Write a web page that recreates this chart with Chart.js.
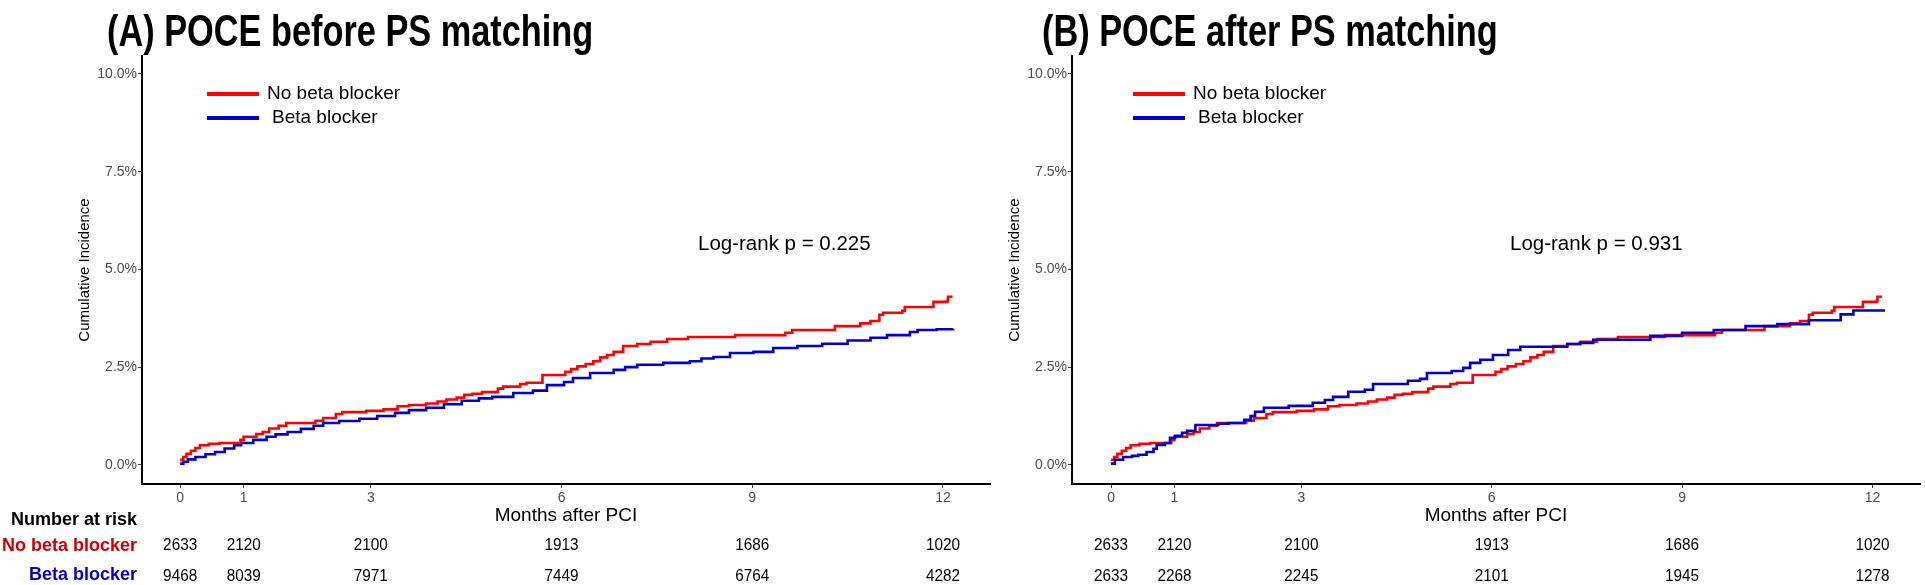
<!DOCTYPE html>
<html>
<head>
<meta charset="utf-8">
<script src="https://cdn.jsdelivr.net/npm/chart.js@4.4.1/dist/chart.umd.min.js"></script>
<style>
  html, body { margin: 0; padding: 0; background: #fff; }
  #wrap { position: relative; width: 1925px; height: 585px; overflow: hidden; }
  canvas { position: absolute; top: 0; }
  #chartA { left: 0; }
  #chartB { left: 1000px; }
</style>
</head>
<body>
<div id="wrap">
  <canvas id="chartA" width="1000" height="585"></canvas>
  <canvas id="chartB" width="925" height="585"></canvas>
</div>
<script>
const FONT = "'Liberation Sans', Arial, sans-serif";

const seriesLabels = ['No beta blocker', 'Beta blocker'];
const xTicks = [0, 1, 3, 6, 9, 12];
const yTicks = [0, 2.5, 5, 7.5, 10];
const riskMonths = [0, 1, 3, 6, 9, 12];

// No beta blocker (same group in both panels)
const noBBMonths = [0, 0.05, 0.1, 0.17, 0.24, 0.31, 0.45, 0.62, 0.95, 1.0, 1.2, 1.3, 1.4, 1.55, 1.67, 2.13, 2.25, 2.45, 2.55, 2.93, 3.2, 3.42, 3.6, 3.87, 4.05, 4.19, 4.35, 4.47, 4.6, 4.75, 5.0, 5.08, 5.35, 5.45, 5.7, 6.06, 6.15, 6.25, 6.38, 6.5, 6.61, 6.72, 6.82, 6.97, 7.19, 7.4, 7.66, 7.99, 8.73, 9.52, 9.63, 10.3, 10.7, 10.86, 11.0, 11.06, 11.36, 11.4, 11.85, 12.07, 12.08, 12.15];
const noBBIncidence = [0.13, 0.2, 0.28, 0.36, 0.43, 0.5, 0.54, 0.56, 0.64, 0.72, 0.79, 0.84, 0.93, 1.0, 1.07, 1.13, 1.2, 1.3, 1.35, 1.38, 1.42, 1.5, 1.53, 1.57, 1.62, 1.67, 1.72, 1.79, 1.82, 1.86, 1.95, 2.0, 2.07, 2.1, 2.3, 2.38, 2.45, 2.52, 2.58, 2.65, 2.75, 2.81, 2.89, 3.04, 3.09, 3.15, 3.22, 3.27, 3.32, 3.38, 3.45, 3.55, 3.62, 3.68, 3.84, 3.89, 3.94, 4.04, 4.17, 4.2, 4.3, 4.3];

// Beta blocker, before PS matching
const bbBeforeMonths = [0, 0.05, 0.12, 0.24, 0.4, 0.55, 0.7, 0.85, 0.96, 1.15, 1.36, 1.5, 1.69, 1.9, 2.1, 2.25, 2.5, 2.82, 3.1, 3.38, 3.6, 3.87, 4.15, 4.43, 4.7, 4.91, 5.24, 5.55, 5.77, 6.04, 6.18, 6.45, 6.82, 7.0, 7.19, 7.6, 8.02, 8.2, 8.39, 8.65, 9.02, 9.33, 9.71, 10.1, 10.5, 10.86, 11.12, 11.48, 11.6, 11.9, 12.16];
const bbBeforeIncidence = [0.03, 0.08, 0.14, 0.2, 0.27, 0.33, 0.42, 0.5, 0.56, 0.64, 0.72, 0.78, 0.84, 0.92, 1.0, 1.07, 1.12, 1.18, 1.25, 1.33, 1.4, 1.46, 1.55, 1.64, 1.7, 1.74, 1.84, 1.9, 2.04, 2.12, 2.22, 2.35, 2.43, 2.5, 2.56, 2.61, 2.65, 2.72, 2.76, 2.86, 2.89, 2.99, 3.04, 3.1, 3.18, 3.25, 3.32, 3.4, 3.45, 3.47, 3.48];

// Beta blocker, after PS matching
const bbAfterMonths = [0, 0.06, 0.19, 0.33, 0.43, 0.56, 0.67, 0.72, 0.85, 0.93, 1.01, 1.12, 1.2, 1.33, 1.69, 1.85, 2.1, 2.2, 2.27, 2.41, 2.8, 3.18, 3.37, 3.5, 3.74, 4.0, 4.13, 4.68, 4.87, 4.98, 5.37, 5.55, 5.66, 5.82, 6.02, 6.26, 6.45, 7.19, 7.39, 7.6, 8.5, 9.0, 9.5, 10.0, 10.5, 11.0, 11.5, 11.7, 12.2];
const bbAfterIncidence = [0.03, 0.13, 0.2, 0.23, 0.26, 0.33, 0.41, 0.51, 0.56, 0.69, 0.74, 0.82, 0.87, 1.02, 1.05, 1.07, 1.15, 1.25, 1.36, 1.46, 1.51, 1.59, 1.66, 1.74, 1.87, 1.92, 2.07, 2.15, 2.2, 2.35, 2.4, 2.48, 2.61, 2.69, 2.81, 2.94, 3.02, 3.09, 3.12, 3.2, 3.3, 3.38, 3.45, 3.55, 3.6, 3.7, 3.85, 3.95, 3.95];

const riskNoBB = [2633, 2120, 2100, 1913, 1686, 1020];
const riskBBBefore = [9468, 8039, 7971, 7449, 6764, 4282];
const riskBBAfter = [2633, 2268, 2245, 2101, 1945, 1278];

const RED = '#ff0000';
const BLUE = '#0000cc';

function toPoints(xs, ys) {
    return xs.map((x, i) => ({ x: x, y: ys[i] }));
}

function textAt(ctx, text, x, y, font, color, align, sx) {
    ctx.save();
    ctx.font = font;
    ctx.fillStyle = color;
    ctx.textAlign = align;
    ctx.textBaseline = 'middle';
    ctx.translate(x, y);
    ctx.scale(sx || 1, 1);
    ctx.fillText(text, 0, 0);
    ctx.restore();
}

// titles, legend, axis titles, log-rank note and risk table
const decorations = {
    id: 'decorations',
    afterDraw(chart) {
        const o = chart.options.plugins.decorations;
        const ctx = chart.ctx;
        const area = chart.chartArea;
        const xs = chart.scales.x;

        // panel title, condensed bold
        ctx.save();
        ctx.font = 'bold 44px ' + FONT;
        ctx.fillStyle = '#000';
        ctx.textBaseline = 'alphabetic';
        ctx.translate(o.titleX, 46);
        ctx.scale(0.78, 1);
        ctx.fillText(o.title, 0, 0);
        ctx.restore();

        // y axis title
        ctx.save();
        ctx.translate(area.left - 57, (area.top + area.bottom) / 2);
        ctx.rotate(-Math.PI / 2);
        ctx.font = '15px ' + FONT;
        ctx.fillStyle = '#000';
        ctx.textAlign = 'center';
        ctx.textBaseline = 'middle';
        ctx.fillText('Cumulative Incidence', 0, 0);
        ctx.restore();

        textAt(ctx, 'Months after PCI', (area.left + area.right) / 2, 516, '19px ' + FONT, '#000', 'center');

        // legend
        const legendRows = [[seriesLabels[0], RED, 94, 0], [seriesLabels[1], BLUE, 118, 5]];
        legendRows.forEach(([label, color, y, shift]) => {
            ctx.save();
            ctx.strokeStyle = color;
            ctx.lineWidth = 4;
            ctx.beginPath();
            ctx.moveTo(area.left + o.legendX, y);
            ctx.lineTo(area.left + o.legendX + 52, y);
            ctx.stroke();
            ctx.restore();
            textAt(ctx, label, area.left + o.legendX + 60 + shift, y, '19px ' + FONT, '#000', 'left');
        });

        textAt(ctx, o.logRank, area.left + o.logRankX, 244, '20.5px ' + FONT, '#000', 'left');

        // number at risk
        if (o.riskLabels) {
            textAt(ctx, 'Number at risk', 137, 520, 'bold 18px ' + FONT, '#000', 'right');
            textAt(ctx, seriesLabels[0], 137, 546, 'bold 18px ' + FONT, '#cc0000', 'right');
            textAt(ctx, seriesLabels[1], 137, 575, 'bold 18px ' + FONT, '#0000cc', 'right');
        }
        riskMonths.forEach((m, i) => {
            const px = xs.getPixelForValue(m);
            textAt(ctx, String(o.riskTop[i]), px, 545, '17px ' + FONT, '#000', 'center', 0.9);
            textAt(ctx, String(o.riskBottom[i]), px, 576, '17px ' + FONT, '#000', 'center', 0.9);
        });
    }
};

function makeChart(canvasId, cfg) {
    const canvas = document.getElementById(canvasId);
    return new Chart(canvas, {
        type: 'line',
        data: {
            datasets: [
                {
                    label: seriesLabels[1],
                    data: toPoints(cfg.bbMonths, cfg.bbIncidence),
                    borderColor: BLUE,
                    borderWidth: 2.6,
                    stepped: true,
                    pointRadius: 0,
                    fill: false,
                    order: cfg.redOnTop ? 1 : 0
                },
                {
                    label: seriesLabels[0],
                    data: toPoints(noBBMonths, noBBIncidence),
                    borderColor: RED,
                    borderWidth: 2.6,
                    stepped: true,
                    pointRadius: 0,
                    fill: false,
                    order: cfg.redOnTop ? 0 : 1
                }
            ]
        },
        options: {
            responsive: false,
            animation: false,
            devicePixelRatio: 1,
            layout: { padding: { top: 56, right: cfg.padRight, bottom: 0, left: 0 } },
            plugins: {
                legend: { display: false },
                tooltip: { enabled: false },
                decorations: cfg.deco
            },
            scales: {
                x: {
                    type: 'linear',
                    min: cfg.xMin,
                    max: cfg.xMax,
                    afterBuildTicks: s => { s.ticks = xTicks.map(v => ({ value: v })); },
                    afterFit: s => { s.height = 101; },
                    border: { display: true, color: '#000', width: 2 },
                    grid: { display: true, drawOnChartArea: false, drawTicks: true, tickLength: 4, color: '#444', lineWidth: 1 },
                    ticks: { color: '#4d4d4d', font: { family: FONT, size: 14 }, padding: 2, maxRotation: 0, autoSkip: false }
                },
                y: {
                    type: 'linear',
                    min: -0.49,
                    max: 10.46,
                    afterBuildTicks: s => { s.ticks = yTicks.map(v => ({ value: v })); },
                    afterFit: s => { s.width = cfg.yWidth; },
                    border: { display: true, color: '#000', width: 2 },
                    grid: { display: true, drawOnChartArea: false, drawTicks: true, tickLength: 4, color: '#444', lineWidth: 1 },
                    ticks: { color: '#4d4d4d', font: { family: FONT, size: 14 }, padding: 1, callback: v => v.toFixed(1) + '%' }
                }
            }
        },
        plugins: [decorations]
    });
}

makeChart('chartA', {
    bbMonths: bbBeforeMonths,
    bbIncidence: bbBeforeIncidence,
    redOnTop: true,
    yWidth: 142,
    padRight: 10,
    xMin: -0.6,
    xMax: 12.74,
    deco: {
        title: '(A) POCE before PS matching',
        titleX: 107,
        legendX: 65,
        logRank: 'Log-rank p = 0.225',
        logRankX: 556,
        riskLabels: true,
        riskTop: riskNoBB,
        riskBottom: riskBBBefore
    }
});

makeChart('chartB', {
    bbMonths: bbAfterMonths,
    bbIncidence: bbAfterIncidence,
    redOnTop: false,
    yWidth: 72,
    padRight: 5,
    xMin: -0.615,
    xMax: 12.75,
    deco: {
        title: '(B) POCE after PS matching',
        titleX: 42,
        legendX: 61,
        logRank: 'Log-rank p = 0.931',
        logRankX: 438,
        riskLabels: false,
        riskTop: riskNoBB,
        riskBottom: riskBBAfter
    }
});
</script>
</body>
</html>
